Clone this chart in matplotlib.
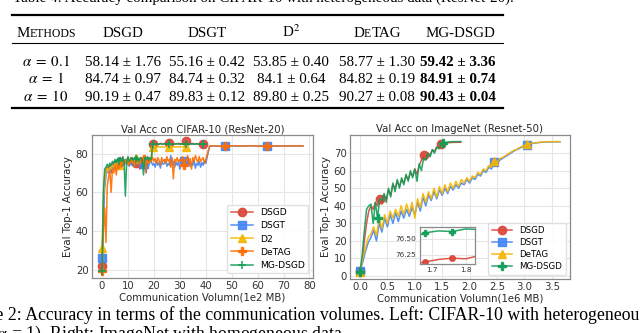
import numpy as np
import matplotlib
matplotlib.use("Agg")
import matplotlib.pyplot as plt
from matplotlib.lines import Line2D
from matplotlib.colors import to_rgba

plt.rcParams["mathtext.fontset"] = "stix"

W, H = 640, 333

# ---- table data ----
methods = ["DSGD", "DSGT", "D$^2$", "DeTAG", "MG-DSGD"]
alphas = ["0.1", "1", "10"]
acc_mean = [["58.14", "55.16", "53.85", "58.77", "59.42"],
            ["84.74", "84.74", "84.1", "84.82", "84.91"],
            ["90.19", "89.83", "89.80", "90.27", "90.43"]]
acc_std = [["1.76", "0.42", "0.40", "1.30", "3.36"],
           ["0.97", "0.32", "0.64", "0.19", "0.74"],
           ["0.47", "0.12", "0.25", "0.08", "0.04"]]

# ---- CIFAR-10 curves (x in 1e2 MB) ----
cifar_step = 0.5
cifar_tail_step = 2.0
cifar_dsgd = [22.0, 50.0, 68.0, 71.5, 73.0, 72.0, 74.5, 70.0, 75.0, 73.5,
              76.0, 74.0, 77.0, 75.0, 78.0, 76.0, 78.5, 75.5, 77.0, 76.0,
              78.0, 74.0, 77.0, 78.0, 76.0, 77.5, 75.0, 78.0, 77.0, 72.0,
              78.0, 76.0, 78.5, 77.0, 70.0, 77.0, 78.0, 76.0, 77.5, 85.0,
              85.2, 84.8, 85.3, 85.0, 84.9, 85.4, 85.1, 84.8, 85.3, 85.0,
              85.2, 84.9, 85.6, 85.1, 85.0, 85.3, 84.9, 85.2, 85.0, 85.4,
              85.1, 84.9, 85.3, 85.2, 85.5, 86.3, 85.2, 84.9, 85.1, 85.0,
              85.3, 85.1, 84.9, 85.2, 85.0, 85.1, 84.9, 85.0, 85.2, 85.1, 85.0]
cifar_dsgt = [26.0, 45.0, 62.0, 68.0, 72.0, 70.0, 73.0, 71.0, 74.5, 72.0,
              75.0, 73.0, 76.0, 74.0, 75.5, 73.0, 76.0, 74.5, 77.0, 74.0,
              76.0, 73.5, 75.5, 74.0, 76.5, 73.0, 75.0, 76.0, 74.0, 75.5,
              73.0, 76.0, 74.5, 75.0, 73.5, 76.0, 74.0, 75.5, 76.0, 74.0,
              75.0, 73.0, 76.5, 74.0, 75.5, 72.5, 76.0, 74.5, 75.0, 77.0,
              73.5, 75.0, 74.0, 79.0, 74.5, 76.0, 73.0, 75.5, 74.0, 76.0,
              72.0, 75.0, 74.5, 76.0, 73.0, 75.5, 74.0, 76.0, 73.5, 75.0,
              74.0, 76.5, 72.5, 75.0, 74.0, 76.0, 73.0, 75.5, 74.0, 76.0, 75.0]
cifar_dsgt_tail = [83.8, 84.0, 83.9, 84.0, 84.1, 83.9, 84.0, 84.0, 84.1, 83.9,
                   84.0, 84.1, 84.0, 83.9, 84.0, 84.1, 84.0, 84.0, 84.0]
cifar_d2 = [31.0, 55.0, 66.0, 70.0, 72.5, 71.0, 73.0, 72.0, 74.0, 73.0,
            75.0, 73.5, 76.0, 74.0, 76.5, 75.0, 77.0, 75.5, 76.0, 77.0,
            75.0, 76.5, 77.0, 75.5, 77.0, 76.0, 77.5, 75.0, 76.5, 77.0,
            76.0, 77.5, 75.5, 76.0, 77.0, 76.5, 75.0, 77.0, 76.5, 83.5,
            83.6, 83.4, 83.5, 83.7, 83.5, 83.4, 83.6, 83.5, 83.4, 83.6,
            83.5, 83.7, 83.4, 83.5, 83.6, 83.5, 83.4, 83.6, 83.5, 83.5,
            83.6, 83.4, 83.5, 83.7, 83.5, 83.6, 83.5]
cifar_detag = [19.0, 40.0, 52.0, 34.0, 63.0, 68.0, 71.0, 60.0, 72.0, 70.0,
               74.0, 69.0, 75.0, 72.0, 76.0, 73.0, 77.0, 74.0, 76.5, 75.0,
               77.0, 74.0, 78.0, 75.0, 77.0, 73.0, 78.0, 76.0, 77.5, 74.0,
               78.0, 75.5, 77.0, 76.0, 72.0, 78.0, 75.0, 77.5, 76.0, 78.0,
               76.0, 77.5, 75.0, 78.0, 76.5, 74.0, 78.0, 76.0, 77.0, 75.0,
               78.5, 76.0, 77.0, 73.0, 78.0, 67.0, 77.0, 76.0, 78.0, 75.5,
               77.0, 76.0, 78.5, 74.0, 77.0, 76.5, 79.0, 75.0, 77.5, 72.0,
               78.0, 76.0, 79.0, 77.0, 75.5, 78.5, 76.0, 77.0, 78.0, 75.0, 77.0]
cifar_detag_tail = [84.0, 84.1, 83.9, 84.0, 84.0, 84.1, 83.9, 84.0, 84.1, 84.0,
                    83.9, 84.0, 84.1, 84.0, 84.0, 83.9, 84.0, 84.1, 84.0]
cifar_mg = [19.0, 60.0, 72.0, 73.0, 74.5, 73.0, 75.0, 74.0, 76.0, 75.0,
            77.0, 75.5, 77.5, 76.0, 78.0, 76.5, 78.0, 76.0, 58.0, 76.0,
            78.5, 76.0, 77.0, 78.0, 76.5, 78.0, 77.0, 78.5, 76.0, 77.5,
            78.0, 76.5, 69.0, 78.0, 77.0, 78.5, 76.5, 78.0, 77.0, 84.8,
            85.0, 84.9, 85.1, 85.0, 84.8, 85.1, 85.0, 84.9, 85.2, 85.0,
            84.9, 85.1, 85.0, 84.8, 85.0, 85.1, 84.9, 85.0, 85.2, 85.0,
            84.9, 85.1, 85.0, 84.9, 85.0, 85.1, 85.0, 84.8, 85.0, 85.1,
            85.0, 84.9, 85.0, 85.1, 84.9, 85.0, 85.1, 85.0, 84.9, 85.0, 85.0]

# ---- ImageNet curves (x in 1e6 MB) ----
fast_step = 0.04
slow_step = 0.05
img_dsgd = [3.0, 8.0, 20.0, 30.0, 37.0, 40.0, 38.0, 42.0, 40.0, 44.0,
            41.0, 46.0, 44.0, 49.0, 46.0, 52.0, 50.0, 54.0, 51.0, 55.0,
            53.0, 57.0, 55.0, 59.0, 57.0, 61.0, 58.0, 63.0, 66.0, 69.0,
            68.0, 70.0, 69.0, 72.0, 71.0, 73.5, 73.0, 75.0, 75.5, 75.8,
            76.0, 76.1, 76.14, 76.18, 76.2, 76.19, 76.24]
img_mg = [2.0, 12.0, 26.0, 38.0, 40.0, 41.0, 30.0, 42.0, 33.0, 44.0,
          43.0, 47.0, 42.0, 50.0, 45.0, 53.0, 48.0, 55.0, 50.0, 56.0,
          52.0, 58.0, 54.0, 60.0, 56.0, 61.0, 54.0, 64.0, 60.0, 67.0,
          66.0, 70.0, 68.0, 72.0, 70.0, 73.5, 72.5, 75.0, 75.6, 76.0,
          76.3, 76.5, 76.59, 76.62, 76.61, 76.65, 76.64]
img_dsgt = [3.0, 8.0, 14.0, 19.0, 22.0, 26.0, 20.0, 30.0, 25.0, 33.0,
            28.0, 35.0, 30.0, 36.0, 31.0, 37.0, 33.0, 38.0, 34.0, 39.0,
            35.0, 42.0, 37.0, 45.0, 40.0, 46.0, 43.0, 48.0, 44.0, 49.0,
            46.0, 50.0, 47.0, 51.0, 49.0, 52.0, 50.0, 53.0, 52.0, 55.0,
            53.0, 56.0, 55.0, 58.0, 57.0, 60.0, 59.0, 62.0, 61.0, 65.0,
            64.0, 66.0, 67.0, 68.0, 69.0, 70.0, 71.0, 72.0, 72.5, 73.5,
            74.0, 74.8, 75.2, 75.6, 75.8, 76.0, 76.2, 76.3, 76.4, 76.4,
            76.5, 76.5, 76.5, 76.5]
img_detag = [2.0, 10.0, 16.0, 22.0, 24.0, 28.0, 23.0, 33.0, 27.0, 35.0,
             30.0, 37.0, 33.0, 38.0, 34.0, 40.0, 35.0, 41.0, 36.0, 42.0,
             33.0, 44.0, 39.0, 47.0, 42.0, 48.0, 44.0, 50.0, 45.0, 51.0,
             47.0, 52.0, 48.0, 53.0, 50.0, 54.0, 51.0, 55.0, 53.0, 56.0,
             54.0, 57.0, 56.0, 59.0, 58.0, 61.0, 60.0, 63.0, 62.0, 65.5,
             64.5, 67.0, 67.5, 68.5, 69.5, 70.5, 71.5, 72.0, 73.0, 73.8,
             74.3, 75.0, 75.4, 75.7, 76.0, 76.1, 76.3, 76.4, 76.5, 76.5,
             76.6, 76.6, 76.6, 76.6]

RED, BLUE, YELLOW, ORANGE, GREEN = "#DB4437", "#4285F4", "#F4B400", "#FF6D00", "#0F9D58"


def fx(x):
    return x / W


def fy(y):
    return 1 - y / H


fig = plt.figure(figsize=(6.4, 3.33), dpi=100)
serif = "Liberation Serif"
tsize = 10.8


def centered_parts(xc, yb, parts, size, **kw):
    # small caps: draw pieces side by side, centred as one string
    r = fig.canvas.get_renderer()
    arts = [fig.text(0, fy(yb), s, fontsize=size * k, family=serif,
                     va="baseline", ha="left", **kw) for s, k in parts]
    widths = [a.get_window_extent(r).width for a in arts]
    x = xc - sum(widths) / 2
    for a, w in zip(arts, widths):
        a.set_x(fx(x))
        x += w


# ---- table ----
fig.text(fx(13), fy(2.0), "Table 4: Accuracy comparison on CIFAR-10 with heterogeneous data (ResNet-20).",
         family=serif, fontsize=tsize, va="baseline", ha="left")
for yy, lw in [(15, 1.6), (43.3, 0.8), (108.3, 1.6)]:
    fig.add_artist(Line2D([fx(12), fx(503)], [fy(yy), fy(yy)], lw=lw, color="black"))

col_x = [123, 207, 291, 377, 460]
centered_parts(46, 36.7, [("M", 1), ("ETHODS", 0.78)], tsize)
for cx, m in zip(col_x, methods):
    if m == "DeTAG":
        centered_parts(cx, 36.7, [("D", 1), ("E", 0.78), ("TAG", 1)], tsize)
    else:
        fig.text(fx(cx), fy(36.7), m, family=serif, fontsize=tsize, ha="center", va="baseline")

row_y = [65.7, 83.3, 101]
for ry, a, means, stds in zip(row_y, alphas, acc_mean, acc_std):
    fig.text(fx(46), fy(ry), r"$\alpha\;=\;%s$" % a, fontsize=tsize, ha="center", va="baseline")
    for j, (cx, m, s) in enumerate(zip(col_x, means, stds)):
        bold = j == len(means) - 1
        fig.text(fx(cx - (2 if bold else 0)), fy(ry), f"{m} ± {s}", family=serif, fontsize=tsize,
                 fontweight="bold" if bold else "normal", ha="center", va="baseline")

# ---- caption ----
fig.text(fx(-43), fy(320), "Figure 2: Accuracy in terms of the communication volumes. Left: CIFAR-10 with heterogeneous",
         family=serif, fontsize=12.8, ha="left", va="baseline")
fig.text(fx(-43), fy(339), r"data ($\alpha$ = 1). Right: ImageNet with homogeneous data.",
         family=serif, fontsize=12.8, ha="left", va="baseline")


def style(ax, size=7.3):
    ax.grid(True, color="#e6e6e6", lw=0.8)
    ax.set_axisbelow(True)
    for s in ax.spines.values():
        s.set_color("#8a8a8a")
        s.set_linewidth(0.9)
    ax.tick_params(length=0, labelsize=size, colors="#333333", pad=2.5)


def kw(color, ms=6):
    return dict(color=color, lw=1.1, alpha=0.9, ms=ms,
                mfc=to_rgba(color, 0.65), mec=to_rgba(color, 0.65))


# ---- left: CIFAR-10 ----
ax1 = fig.add_axes([fx(92), 1 - 278 / H, fx(221), 143 / H])
style(ax1)
x_full = np.arange(len(cifar_dsgd)) * cifar_step
x_tail = x_full[-1] + 1.5 + np.arange(len(cifar_dsgt_tail)) * cifar_tail_step
ax1.plot(x_full, cifar_dsgd, marker="o", markevery=13, label="DSGD", **kw(RED))
ax1.plot(np.concatenate([x_full, x_tail]), cifar_dsgt + cifar_dsgt_tail, marker="s",
         markevery=[0, 32, 63, 84, 92], label="DSGT", **kw(BLUE))
ax1.plot(np.arange(len(cifar_d2)) * cifar_step, cifar_d2, marker="^", markevery=13,
         label="D2", **kw(YELLOW))
ax1.plot(np.concatenate([x_full, x_tail]), cifar_detag + cifar_detag_tail, marker="P",
         markevery=[0, 32, 63, 84, 92], label="DeTAG", **kw(ORANGE))
ax1.plot(x_full, cifar_mg, marker="+", markevery=13, mew=1.2, label="MG-DSGD", **kw(GREEN))
ax1.set_xticks(range(0, 81, 10))
ax1.set_yticks([20, 40, 60, 80])
ax1.set_title("Val Acc on CIFAR-10 (ResNet-20)", fontsize=7.3, pad=2, color="#262626")
ax1.set_xlabel("Communication Volumn(1e2 MB)", fontsize=7.3, labelpad=1, color="#262626")
ax1.set_ylabel("Eval Top-1 Accuracy", fontsize=7.3, labelpad=2, color="#262626")
ax1.legend(loc="lower right", fontsize=6.6, handlelength=2.4, labelspacing=0.45,
           framealpha=0.9, edgecolor="#dddddd", fancybox=True)

# ---- right: ImageNet ----
ax2 = fig.add_axes([fx(350), 1 - 279 / H, fx(220), 144 / H])
style(ax2)
x_fast = np.arange(len(img_dsgd)) * fast_step
x_slow = np.arange(len(img_dsgt)) * slow_step
ax2.plot(x_fast, img_dsgd, marker="o", markevery=[0, 9, 29, 37], label="DSGD", **kw(RED))
ax2.plot(x_slow, img_dsgt, marker="s", markevery=[0, 49, 61], label="DSGT", **kw(BLUE))
ax2.plot(x_slow, img_detag, marker="^", markevery=[0, 49, 61], label="DeTAG", **kw(YELLOW))
ax2.plot(x_fast, img_mg, marker="P", markevery=[0, 8, 38], label="MG-DSGD", **kw(GREEN))
ax2.set_xticks(np.arange(0, 3.6, 0.5))
ax2.set_yticks(range(0, 71, 10))
ax2.set_title("Val Acc on ImageNet (Resnet-50)", fontsize=7.3, pad=2, color="#262626")
ax2.set_xlabel("Communication Volumn(1e6 MB)", fontsize=7.3, labelpad=1, color="#262626")
ax2.set_ylabel("Eval Top-1 Accuracy", fontsize=7.3, labelpad=2, color="#262626")
ax2.legend(loc="lower right", fontsize=6.2, handlelength=2.4, labelspacing=0.35,
           framealpha=0.9, edgecolor="#dddddd", fancybox=True)

# inset zoom on the final accuracies
axi = fig.add_axes([fx(420), 1 - 264 / H, fx(55), 37 / H])
style(axi, size=5.2)
axi.plot(x_fast, img_dsgd, marker="o", markevery=[42, 44], **kw(RED, 4))
axi.plot(x_fast, img_mg, marker="P", markevery=[42, 44], **kw(GREEN, 4))
axi.set_xlim(1.666, 1.827)
axi.set_ylim(76.11, 76.68)
axi.set_xticks([1.7, 1.8])
axi.set_yticks([76.25, 76.50])

fig.savefig("out.png", dpi=100)
